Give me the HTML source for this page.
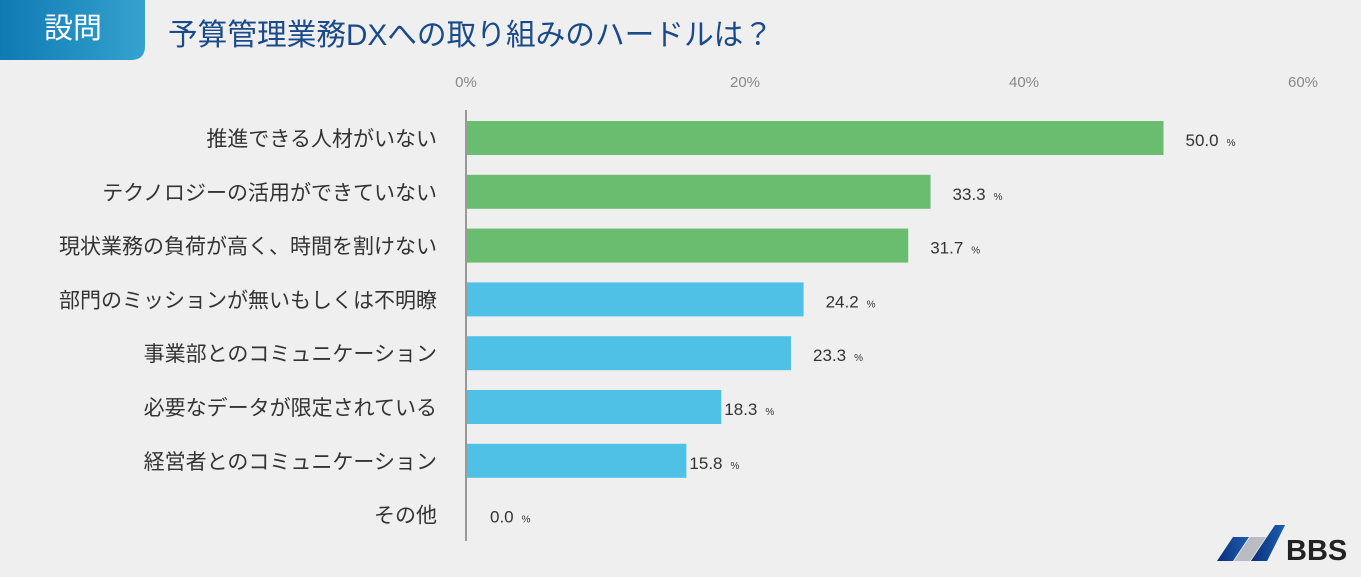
<!DOCTYPE html>
<html><head><meta charset="utf-8"><style>
body{margin:0;width:1361px;height:572px;background:#efefef;overflow:hidden;font-family:"Liberation Sans","Noto Sans CJK JP",sans-serif}
</style></head><body>
<svg width="1361" height="572" xmlns="http://www.w3.org/2000/svg">
<defs>
<linearGradient id="tabg" x1="0" x2="1"><stop offset="0" stop-color="#0f7ab3"/><stop offset="1" stop-color="#35a2cf"/></linearGradient>
<linearGradient id="logog" x1="0" x2="1"><stop offset="0" stop-color="#0a2f7a"/><stop offset="1" stop-color="#1d5fb0"/></linearGradient>
</defs>
<path d="M0 0H145V46Q145 60 131 60H0Z" fill="url(#tabg)"/>
<text x="73" y="38" text-anchor="middle" font-size="29" fill="#fff" font-family="Liberation Sans, Noto Sans CJK JP, sans-serif">設問</text>
<text x="168" y="45" font-size="30" fill="#1a4a8a" font-family="Liberation Sans, Noto Sans CJK JP, sans-serif" textLength="605" lengthAdjust="spacingAndGlyphs">予算管理業務DXへの取り組みのハードルは？</text>
<g id="axis"></g>
<g id="bars"></g>
<g>
<polygon points="1217,561 1233,537 1249,537 1233,561" fill="url(#logog)"/>
<polygon points="1234,561 1250,537 1266,537 1250,561" fill="#b9bcc2"/>
<polygon points="1251,561 1267,537 1268,537 1285,525 1267,561" fill="url(#logog)"/>
<polygon points="1251,561 1275,525 1285,525 1267,561" fill="url(#logog)"/>
<text x="1286" y="560" font-size="29" font-weight="bold" fill="#222" font-family="Liberation Sans, sans-serif">BBS</text>
</g>
</svg>
<script>
const categories=["推進できる人材がいない","テクノロジーの活用ができていない","現状業務の負荷が高く、時間を割けない","部門のミッションが無いもしくは不明瞭","事業部とのコミュニケーション","必要なデータが限定されている","経営者とのコミュニケーション","その他"];
const values=[50.0,33.3,31.7,24.2,23.3,18.3,15.8,0.0];
const groups=["green","green","green","blue","blue","blue","blue","blue"];
const ticks=[0,20,40,60];
const NS="http://www.w3.org/2000/svg";
const x0=466, pxPer=13.95;
const xs=v=>x0+v*pxPer;
const ys=i=>138+i*53.8;
const colors={green:"#6abd6e",blue:"#4fc0e6"};
function mk(t,a,p){const e=document.createElementNS(NS,t);for(const k in a)e.setAttribute(k,a[k]);p.appendChild(e);return e;}
const ax=document.getElementById('axis'), bg=document.getElementById('bars');
ticks.forEach(t=>{const e=mk('text',{x:xs(t),y:87,'text-anchor':'middle','font-size':15,fill:'#888'},ax);e.textContent=t+'%';

});
const al=mk('line',{x1:x0,x2:x0,y1:110,y2:541,stroke:'#999','stroke-width':2},ax);


categories.forEach((c,i)=>{
 const y=ys(i);
 const l=mk('text',{x:437,y:y+8,'text-anchor':'end','font-size':21,fill:'#333'},bg);l.textContent=c;
 
 
 const w=xs(values[i])-x0;
 if(w>0){const r=mk('rect',{x:x0+1,y:y-17,width:w-1,height:34,fill:colors[groups[i]]},bg);
 
 }
 const tx=values[i]>0?xs(values[i])+ (values[i]<20?3:22):490;
 const v=mk('text',{x:tx,y:y+8,'font-size':17,fill:'#333'},bg);
 v.textContent=values[i].toFixed(1);
 
 
 const p=mk('tspan',{'font-size':10,dx:8},v);p.textContent='%';
});
</script>
</body></html>
